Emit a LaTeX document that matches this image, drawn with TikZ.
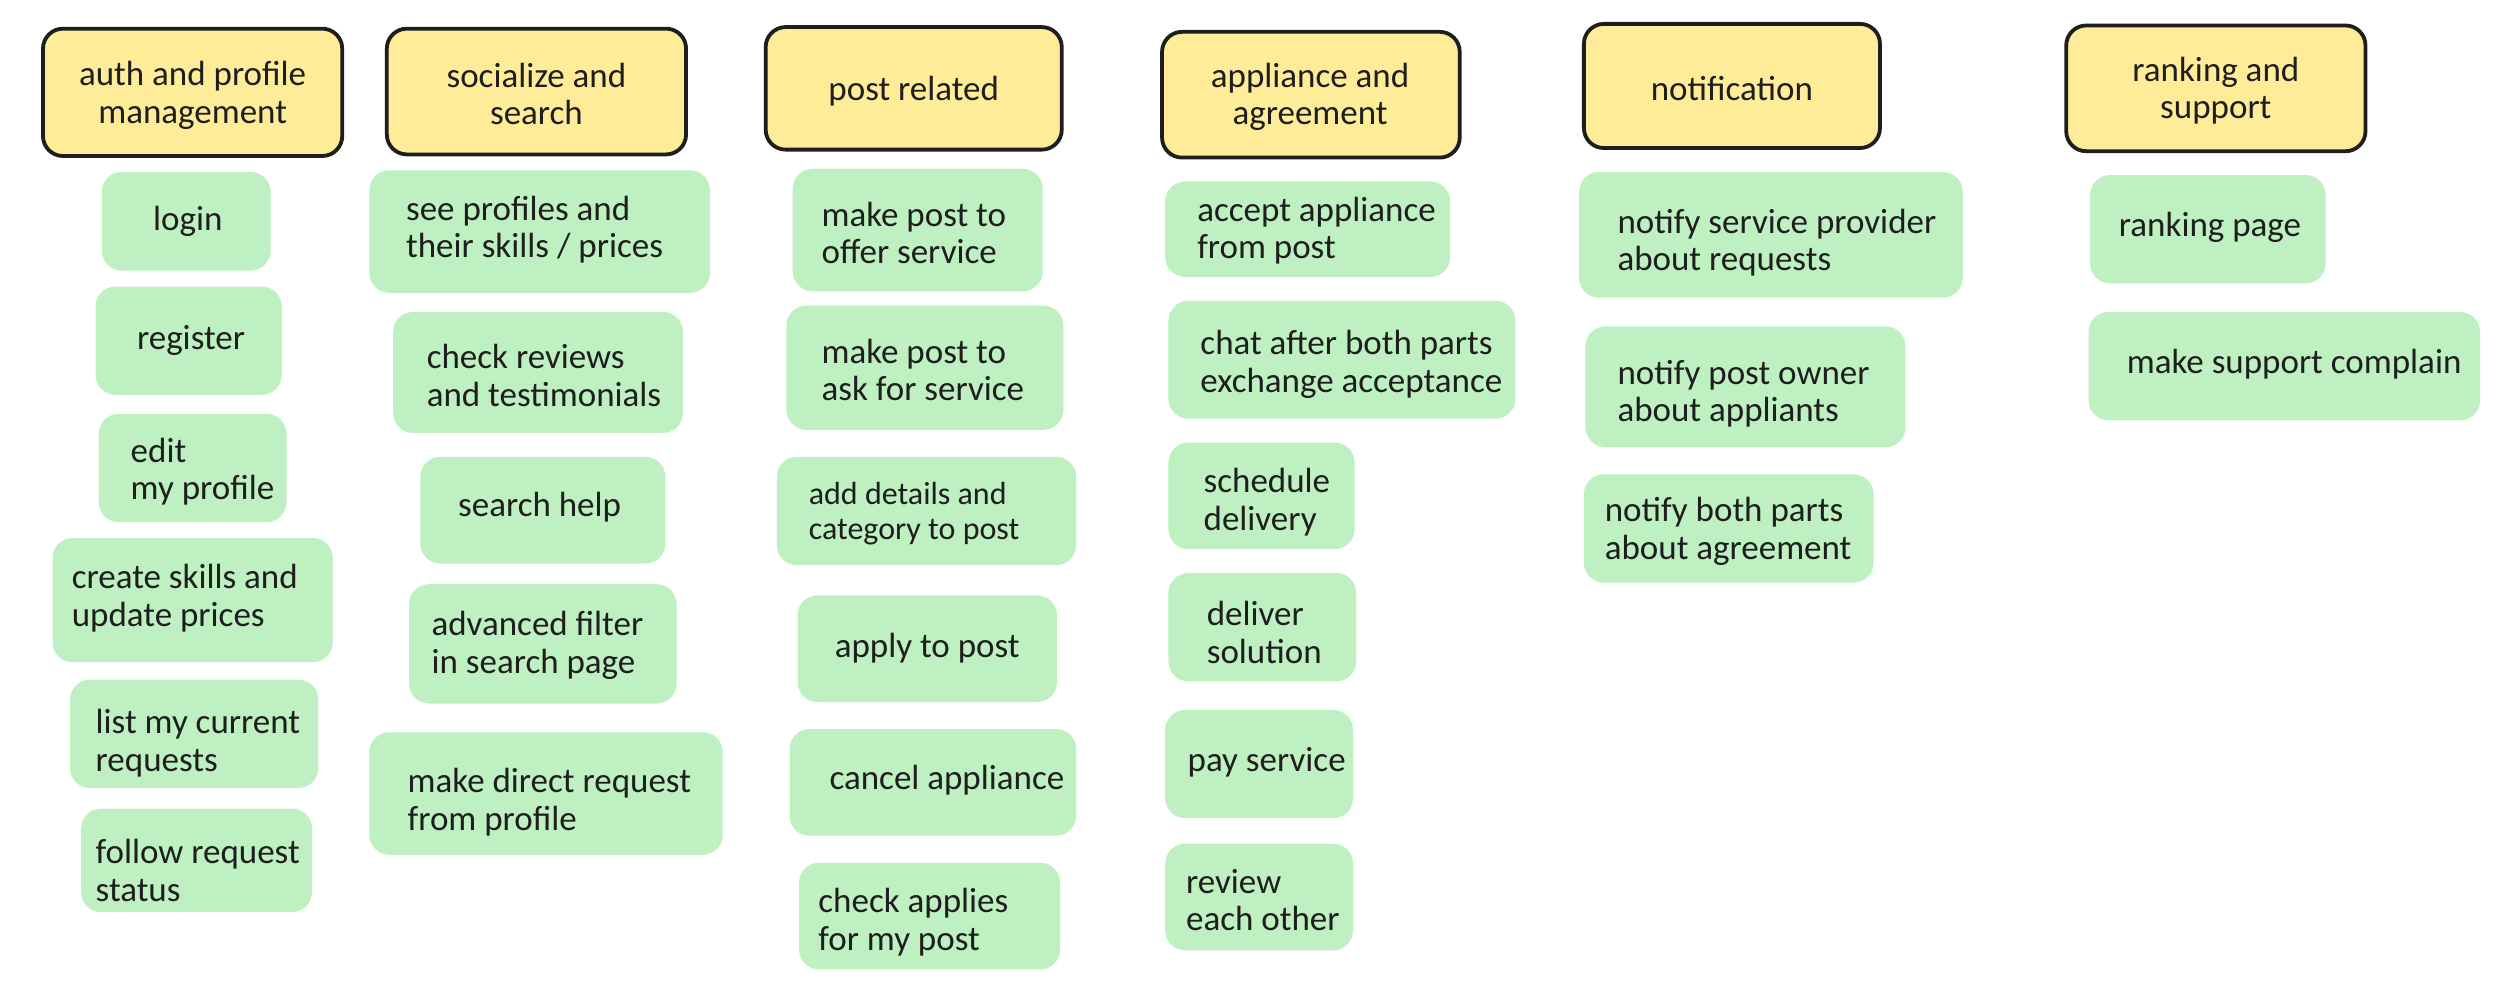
\documentclass[tikz,border=0pt]{standalone}
\usepackage{fontspec}
\setmainfont{Carlito}
\usetikzlibrary{fit}
\definecolor{hdrfill}{HTML}{FFEC99}
\definecolor{grnfill}{RGB}{190,240,193}
\definecolor{ink}{HTML}{1E1E1E}
\tikzset{
  hdr/.style={draw=ink, line width=3.8pt, fill=hdrfill, rounded corners=20pt, inner sep=0pt},
  gbox/.style={fill=grnfill, rounded corners=20pt, inner sep=0pt},
  lbl/.style={text=ink, font=\fontsize{35}{37.5}\selectfont, inner sep=0pt, align=left, anchor=west, yshift=-3pt},
  slbl/.style={lbl, font=\fontsize{32}{35}\selectfont},
  clbl/.style={text=ink, font=\fontsize{35}{37.5}\selectfont, inner sep=0pt, align=center, anchor=center, yshift=-3pt},
}
\begin{document}
\begin{tikzpicture}[x=1.5918pt, y=-1.5918pt]
\useasboundingbox[fill=white] (0,0) rectangle (1568,627);

% ---------- headers ----------
\node[hdr, fit={(27,18) (215,98)}] (h1) {};
\node[clbl] (h1t) at (121,58) {auth and profile\\management};
\node[hdr, fit={(243,18) (431,97)}] (h2) {};
\node[clbl] (h2t) at (337,57) {socialize and\\search};
\node[hdr, fit={(481,17) (667,94)}] (h3) {};
\node[clbl] (h3t) at (574,55.5) {post related};
\node[hdr, fit={(730,20) (917,99)}] (h4) {};
\node[clbl] (h4t) at (823,59) {appliance and\\agreement};
\node[hdr, fit={(995,15) (1181,93)}] (h5) {};
\node[clbl] (h5t) at (1088,54) {notification};
\node[hdr, fit={(1298,16) (1486,95)}] (h6) {};
\node[clbl] (h6t) at (1392,55) {ranking and\\support};

% ---------- column 1 ----------
\node[gbox, fit={(64,108) (170,170)}] (a1) {};
\node[clbl] (a1t) at (118,137) {login};
\node[gbox, fit={(60,180) (177,248)}] (a2) {};
\node[clbl] (a2t) at (120,212) {register};
\node[gbox, fit={(62,260) (180,328)}] (a3) {};
\node[lbl] (a3t) at (82,294.5) {edit\\my profile};
\node[gbox, fit={(33,338) (209,416)}] (a4) {};
\node[lbl] (a4t) at (45,374) {create skills and\\update prices};
\node[gbox, fit={(44,427) (200,495)}] (a5) {};
\node[lbl] (a5t) at (60,465) {list my current\\requests};
\node[gbox, fit={(51,508) (196,573)}] (a6) {};
\node[lbl] (a6t) at (60,545) {follow request\\status};

% ---------- column 2 ----------
\node[gbox, fit={(232,107) (446,184)}] (b1) {};
\node[lbl] (b1t) at (255,142.5) {see profiles and\\their skills / prices};
\node[gbox, fit={(247,196) (429,272)}] (b2) {};
\node[lbl] (b2t) at (268,234) {check reviews\\and testimonials};
\node[gbox, fit={(264,287) (418,354)}] (b3) {};
\node[clbl] (b3t) at (339,317) {search help};
\node[gbox, fit={(257,367) (425,442)}] (b4) {};
\node[lbl] (b4t) at (271,403.5) {advanced filter\\in search page};
\node[gbox, fit={(232,460) (454,537)}] (b5) {};
\node[lbl] (b5t) at (256,502) {make direct request\\from profile};

% ---------- column 3 ----------
\node[gbox, fit={(498,106) (655,183)}] (c1) {};
\node[lbl] (c1t) at (516,144.5) {make post to\\offer service};
\node[gbox, fit={(494,192) (668,270)}] (c2) {};
\node[lbl] (c2t) at (516,230.5) {make post to\\ask for service};
\node[gbox, fit={(488,287) (676,355)}] (c3) {};
\node[slbl] (c3t) at (508,321) {add details and\\category to post};
\node[gbox, fit={(501,374) (664,441)}] (c4) {};
\node[clbl] (c4t) at (582.5,405) {apply to post};
\node[gbox, fit={(496,458) (676,525)}] (c5) {};
\node[lbl] (c5t) at (521,488) {cancel appliance};
\node[gbox, fit={(502,542) (666,609)}] (c6) {};
\node[lbl] (c6t) at (514,577.5) {check applies\\for my post};

% ---------- column 4 ----------
\node[gbox, fit={(732,114) (911,174)}] (d1) {};
\node[lbl] (d1t) at (752,143) {accept appliance\\from post};
\node[gbox, fit={(734,189) (952,263)}] (d2) {};
\node[lbl] (d2t) at (754,227) {chat after both parts\\exchange acceptance};
\node[gbox, fit={(734,278) (851,345)}] (d3) {};
\node[lbl] (d3t) at (756,313.5) {schedule\\delivery};
\node[gbox, fit={(734,360) (852,428)}] (d4) {};
\node[lbl] (d4t) at (758,395.5) {deliver\\solution};
\node[gbox, fit={(732,446) (850,514)}] (d5) {};
\node[lbl] (d5t) at (746,477) {pay service};
\node[gbox, fit={(732,530) (850,597)}] (d6) {};
\node[lbl] (d6t) at (745,563.5) {review\\each other};

% ---------- column 5 ----------
\node[gbox, fit={(992,108) (1233,187)}] (e1) {};
\node[lbl] (e1t) at (1016,150.5) {notify service provider\\about requests};
\node[gbox, fit={(996,205) (1197,281)}] (e2) {};
\node[lbl] (e2t) at (1016,245.5) {notify post owner\\about appliants};
\node[gbox, fit={(995,298) (1177,366)}] (e3) {};
\node[lbl] (e3t) at (1008,332) {notify both parts\\about agreement};

% ---------- column 6 ----------
\node[gbox, fit={(1313,110) (1461,178)}] (f1) {};
\node[lbl] (f1t) at (1331,141) {ranking page};
\node[gbox, fit={(1312,196) (1558,264)}] (f2) {};
\node[lbl] (f2t) at (1336,227) {make support complain};
\end{tikzpicture}
\end{document}
